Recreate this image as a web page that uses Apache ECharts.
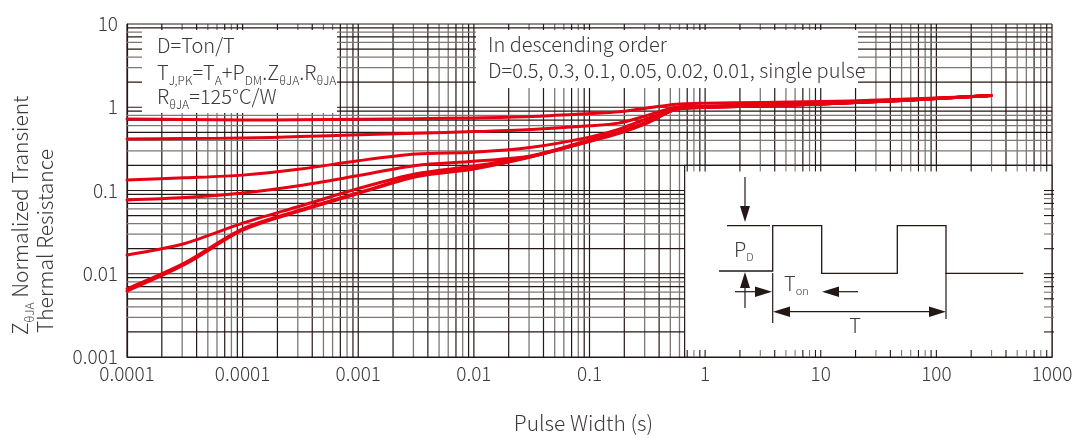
<!DOCTYPE html>
<html>
<head>
<meta charset="utf-8">
<script src="https://cdn.jsdelivr.net/npm/echarts@6/dist/echarts.min.js"></script>
<style>
html,body{margin:0;padding:0;background:#ffffff;}
#chart{width:1090px;height:439px;}
</style>
</head>
<body>
<div id="chart"></div>
<script>
// ---------- data ----------
const xTickLabels = ['0.0001','0.0001','0.001','0.01','0.1','1','10','100','1000'];
const yTickLabels = ['0.001','0.01','0.1','1','10'];
const seriesNames = ['D=0.5','D=0.3','D=0.1','D=0.05','D=0.02','D=0.01','Single pulse'];

const pulseWidth = [1e-5, 3.16e-5, 1e-4, 3.16e-4, 1e-3, 3.16e-3, 0.01, 0.0316, 0.1, 0.178, 0.316, 0.562, 1, 3.16, 10, 31.6, 100, 297];
const zD050 = [0.722, 0.712, 0.702, 0.708, 0.716, 0.730, 0.744, 0.774, 0.84, 0.88, 0.98, 1.09, 1.12, 1.14, 1.17, 1.22, 1.29, 1.38];
const zD030 = [0.416, 0.421, 0.426, 0.444, 0.466, 0.488, 0.51, 0.542, 0.598, 0.645, 0.798, 1.0, 1.03, 1.08, 1.125, 1.19, 1.28, 1.38];
const zD010 = [0.134, 0.142, 0.153, 0.181, 0.228, 0.275, 0.288, 0.33, 0.438, 0.541, 0.733, 0.953, 1.02, 1.035, 1.094, 1.17, 1.27, 1.38];
const zD005 = [0.077, 0.0824, 0.0936, 0.115, 0.151, 0.2, 0.224, 0.261, 0.405, 0.499, 0.67, 0.96, 1.01, 1.035, 1.094, 1.17, 1.27, 1.38];
const zD002 = [0.0168, 0.0231, 0.0405, 0.0652, 0.1056, 0.159, 0.197, 0.258, 0.395, 0.495, 0.66, 0.955, 1.0, 1.035, 1.094, 1.17, 1.27, 1.38];
const zD001 = [0.0066, 0.0135, 0.0345, 0.0585, 0.094, 0.149, 0.184, 0.256, 0.392, 0.488, 0.652, 0.946, 0.995, 1.035, 1.094, 1.17, 1.27, 1.38];
const zSingle = [0.0062, 0.0129, 0.0333, 0.0569, 0.092, 0.1465, 0.1816, 0.254, 0.388, 0.482, 0.645, 0.944, 0.993, 1.035, 1.094, 1.17, 1.27, 1.38];
const curves = [zD050, zD030, zD010, zD005, zD002, zD001, zSingle];

// ---------- style ----------
const X_MIN = 1e-5, X_MAX = 1000, Y_MIN = 0.001, Y_MAX = 10;
const DARK = '#231815', GREY = '#7d7775', RED = '#e60012', TEXT = '#3e3a39';
const FONT = '"Noto Sans CJK SC","Noto Sans",sans-serif';
const xDarkM = {1:1,2:1,4:1,7:1,9:1};
const yDarkM = {1:1,2:1,5:1,7:1,9:1};

// grid lines (decade + minor), placed through the axes
const gridData = [];
for (let e = -5; e < 3; e++) for (let m = 1; m <= 9; m++) gridData.push([m * Math.pow(10, e), 1, xDarkM[m] ? 1 : 0, 0]);
gridData.push([X_MAX, 1, 1, 0]);
for (let e = -3; e < 1; e++) for (let m = 1; m <= 9; m++) gridData.push([1, m * Math.pow(10, e), yDarkM[m] ? 1 : 0, 1]);
gridData.push([1, Y_MAX, 1, 1]);

const chart = echarts.init(document.getElementById('chart'), null, {renderer: 'canvas'});

const series = [{
  type: 'custom', name: 'grid', silent: true, z: 1, clip: false,
  encode: {x: 0, y: 1}, data: gridData,
  renderItem: function (params, api) {
    const kind = api.value(3), dark = api.value(2);
    let a, b;
    if (kind === 0) { const v = api.value(0); a = api.coord([v, Y_MIN]); b = api.coord([v, Y_MAX]); }
    else { const v = api.value(1); a = api.coord([X_MIN, v]); b = api.coord([X_MAX, v]); }
    return {type: 'line', shape: {x1: a[0], y1: a[1], x2: b[0], y2: b[1]},
            style: {stroke: dark ? DARK : GREY, lineWidth: dark ? 1.2 : 1.3}};
  }
}];
curves.forEach(function (ys, i) {
  series.push({
    type: 'line', name: seriesNames[i], data: pulseWidth.map((x, k) => [x, ys[k]]),
    showSymbol: false, symbol: 'none', smooth: 0.3, z: 3, silent: true,
    lineStyle: {color: RED, width: 3, cap: 'round', join: 'round'}
  });
});

chart.setOption({
  backgroundColor: '#ffffff',
  animation: false,
  grid: {left: 127, right: 38, top: 24, bottom: 82, containLabel: false},
  xAxis: {
    type: 'log', logBase: 10, min: X_MIN, max: X_MAX,
    axisLine: {show: true, onZero: false, lineStyle: {color: DARK, width: 1.2}},
    axisTick: {show: false}, splitLine: {show: false},
    axisLabel: {color: TEXT, fontSize: 19, fontFamily: FONT, fontWeight: 300, margin: 7, interval: 0,
      formatter: function (v) { return xTickLabels[Math.round(Math.log10(v)) + 5]; }},
    name: 'Pulse Width (s)', nameLocation: 'middle', nameGap: 56,
    nameTextStyle: {color: TEXT, fontSize: 21, fontFamily: FONT, fontWeight: 300, padding: [0, 12, 0, 0]}
  },
  yAxis: {
    type: 'log', logBase: 10, min: Y_MIN, max: Y_MAX,
    axisLine: {show: true, onZero: false, lineStyle: {color: DARK, width: 1.2}},
    axisTick: {show: false}, splitLine: {show: false},
    axisLabel: {color: TEXT, fontSize: 19, fontFamily: FONT, fontWeight: 300, margin: 9, interval: 0,
      formatter: function (v) { return yTickLabels[Math.round(Math.log10(v)) + 3]; }}
  },
  series: series
});

// ---------- annotations ----------
const px = v => chart.convertToPixel({xAxisIndex: 0}, v);
const py = v => chart.convertToPixel({yAxisIndex: 0}, v);
const g = [];
const subRich = {
  n: {fill: TEXT, fontSize: 20, fontFamily: FONT, fontWeight: 300, lineHeight: 28},
  s: {fill: TEXT, fontSize: 12, fontFamily: FONT, fontWeight: 300, lineHeight: 12, verticalAlign: 'bottom'}
};
function txt(x, y, text, opts) {
  opts = opts || {};
  g.push({type: 'text', x: x, y: y, rotation: opts.rotation || 0, z: 30, silent: true,
    style: {text: text, fill: TEXT, fontSize: opts.fontSize || 20, fontFamily: FONT, fontWeight: 300,
      align: opts.align || 'left', verticalAlign: 'middle', rich: opts.rich}});
}
function rect(x, y, w, h, stroke) {
  g.push({type: 'rect', z: 20, silent: true, shape: {x: x, y: y, width: w, height: h},
    style: {fill: '#ffffff', stroke: stroke || null, lineWidth: 1.2}});
}
function seg(x1, y1, x2, y2, color, w) {
  g.push({type: 'line', z: 25, silent: true, shape: {x1: x1, y1: y1, x2: x2, y2: y2},
    style: {stroke: color || DARK, lineWidth: w || 1.2}});
}
function poly(points, closed) {
  g.push({type: closed ? 'polygon' : 'polyline', z: 25, silent: true, shape: {points: points},
    style: closed ? {fill: DARK} : {stroke: DARK, lineWidth: 1.3, fill: null}});
}

// text boxes
rect(142, 30, 195, 83);
rect(476, 30, 382, 58);
txt(157, 45, 'D=Ton/T');
txt(157, 72, '{n|T}{s|J,PK}{n|=T}{s|A}{n|+P}{s|DM}{n|.Z}{s|θJA}{n|.R}{s|θJA}', {rich: subRich});
txt(157, 96, '{n|R}{s|θJA}{n|=125°C/W}', {rich: subRich});
txt(488, 44, 'In descending order');
txt(488, 70, 'D=0.5, 0.3, 0.1, 0.05, 0.02, 0.01, single pulse');

// y axis title
const titleRich = {
  n: {fill: TEXT, fontSize: 21, fontFamily: FONT, fontWeight: 300, lineHeight: 30},
  s: {fill: TEXT, fontSize: 12, fontFamily: FONT, fontWeight: 300, lineHeight: 12, verticalAlign: 'bottom'}
};
txt(20, 335, '{n|Z}{s|θJA}{n| Normalized Transient}', {rotation: Math.PI / 2, rich: titleRich});
txt(45, 333, 'Thermal Resistance', {rotation: Math.PI / 2, fontSize: 21});

// inset box with edge ticks
const ix0 = px(0.665), iy0 = py(0.2), ix1 = px(X_MAX), iy1 = py(Y_MIN);
rect(ix0, iy0, ix1 - ix0, iy1 - iy0, DARK);
for (let e = -1; e < 3; e++) for (let m = 1; m <= 9; m++) {
  const v = m * Math.pow(10, e);
  if (v <= 0.665 || v >= X_MAX) continue;
  const col = xDarkM[m] ? DARK : GREY;
  seg(px(v), iy0, px(v), iy0 + 6, col, 1.1);
  seg(px(v), iy1, px(v), iy1 - 7, col, 1.1);
}
for (let e = -3; e < 0; e++) for (let m = 1; m <= 9; m++) {
  const v = m * Math.pow(10, e);
  if (v <= Y_MIN || v >= 0.2) continue;
  seg(ix1 - 8, py(v), ix1 + 2, py(v), yDarkM[m] ? DARK : GREY, 1.1);
}

// pulse diagram
seg(745, 177, 745, 208);
poly([[740, 206], [750, 206], [745, 222]], true);
seg(727, 225.7, 770, 225.7);
poly([[719, 271], [772.7, 271], [772.7, 225.7], [821.7, 225.7], [821.7, 273.3], [897.3, 273.3],
      [897.3, 225.7], [946, 225.7], [946, 273.3], [1023.3, 273.3]], false);
poly([[745, 272], [740, 288], [750, 288]], true);
seg(745, 288, 745, 308);
seg(735, 291.7, 757, 291.7);
poly([[772, 291.7], [755, 286.5], [755, 297]], true);
poly([[822, 291.7], [839, 286.5], [839, 297]], true);
seg(838, 291.7, 858, 291.7);
seg(772.7, 273, 772.7, 323);
seg(946, 273, 946, 319);
seg(788, 311.7, 931, 311.7);
poly([[773, 311.7], [790, 306.5], [790, 317]], true);
poly([[946, 311.7], [929, 306.5], [929, 317]], true);
const insetRich = {
  n: {fill: TEXT, fontSize: 20, fontFamily: FONT, fontWeight: 300, lineHeight: 26},
  s: {fill: TEXT, fontSize: 11, fontFamily: FONT, fontWeight: 300, lineHeight: 11, verticalAlign: 'bottom'}
};
txt(734, 249, '{n|P}{s|D}', {rich: insetRich});
txt(784, 283, '{n|T}{s|on}', {rich: insetRich});
txt(855, 325, 'T', {align: 'center', fontSize: 20});

chart.setOption({graphic: {elements: g}});
</script>
</body>
</html>
